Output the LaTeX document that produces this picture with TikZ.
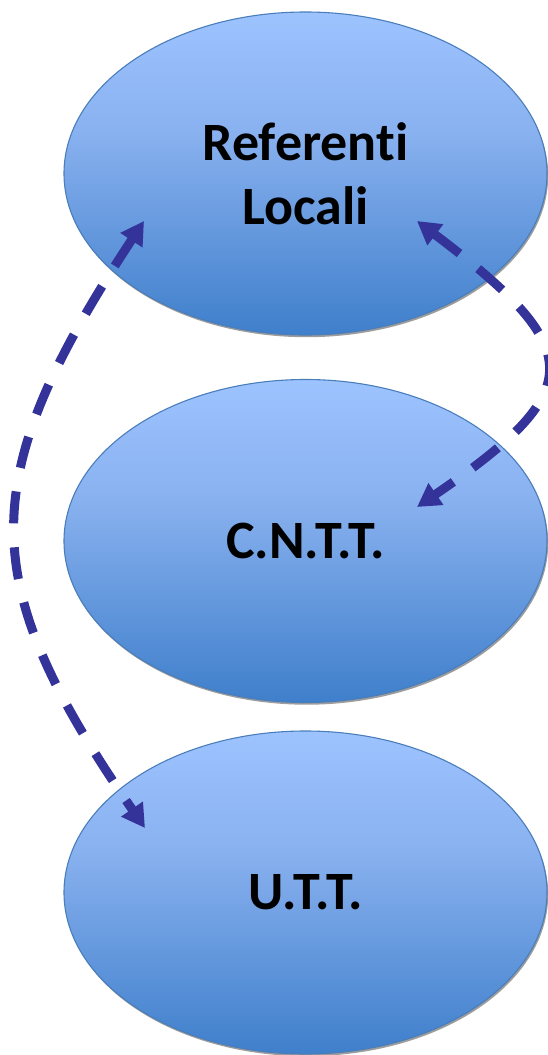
\documentclass[tikz,border=0pt]{standalone}
\usepackage{fontspec}
\setmainfont{Carlito}[RawFeature={-liga}]
\usetikzlibrary{shapes.geometric,arrows.meta,shadows}
\definecolor{etop}{HTML}{9DC3FF}
\definecolor{emid}{HTML}{8AB2F0}
\definecolor{ebot}{HTML}{3F7FCB}
\definecolor{eline}{HTML}{4A7EBB}
\definecolor{arr}{HTML}{333399}
\pgfdeclareverticalshading{ellgrad}{100bp}{color(0bp)=(ebot); color(25bp)=(ebot); color(57bp)=(emid); color(75bp)=(etop); color(100bp)=(etop)}
\tikzset{
  bubble/.style={ellipse, minimum width=483pt, minimum height=323pt, inner sep=0pt,
    draw=eline, line width=1.1pt, shading=ellgrad,
    drop shadow={shadow xshift=1.2pt, shadow yshift=-2.2pt, fill=black!55, opacity=.7},
    font=\fontsize{54}{64}\selectfont\bfseries, align=center, text=black},
  conn/.style={draw=arr, line width=9pt, dash pattern=on 32pt off 24pt,
    {Triangle[length=23pt,width=25pt]}-{Triangle[length=23pt,width=25pt]}}
}
\begin{document}
\begin{tikzpicture}[x=1pt,y=-1pt]
\useasboundingbox (0,0) rectangle (547,1055);
\node[bubble] (ref) at (305.5,173.5) {Referenti\\Locali};
\node[bubble] (cntt) at (305.5,541) {C.N.T.T.};
\node[bubble] (utt) at (305.5,892.5) {U.T.T.};
\coordinate (rA) at ([shift={(111.5,47.5)}]ref.center);
\coordinate (rB) at ([shift={(111.5,-34)}]cntt.center);
\coordinate (lA) at ([shift={(-161.5,47.5)}]ref.center);
\coordinate (lB) at ([shift={(-160.5,-64.5)}]utt.center);
\draw[conn] (rA) .. controls (588,350) and (588,390) .. (rB);
\draw[conn] (lA) .. controls (-26,480) and (-26,580) .. (lB);
\end{tikzpicture}
\end{document}
